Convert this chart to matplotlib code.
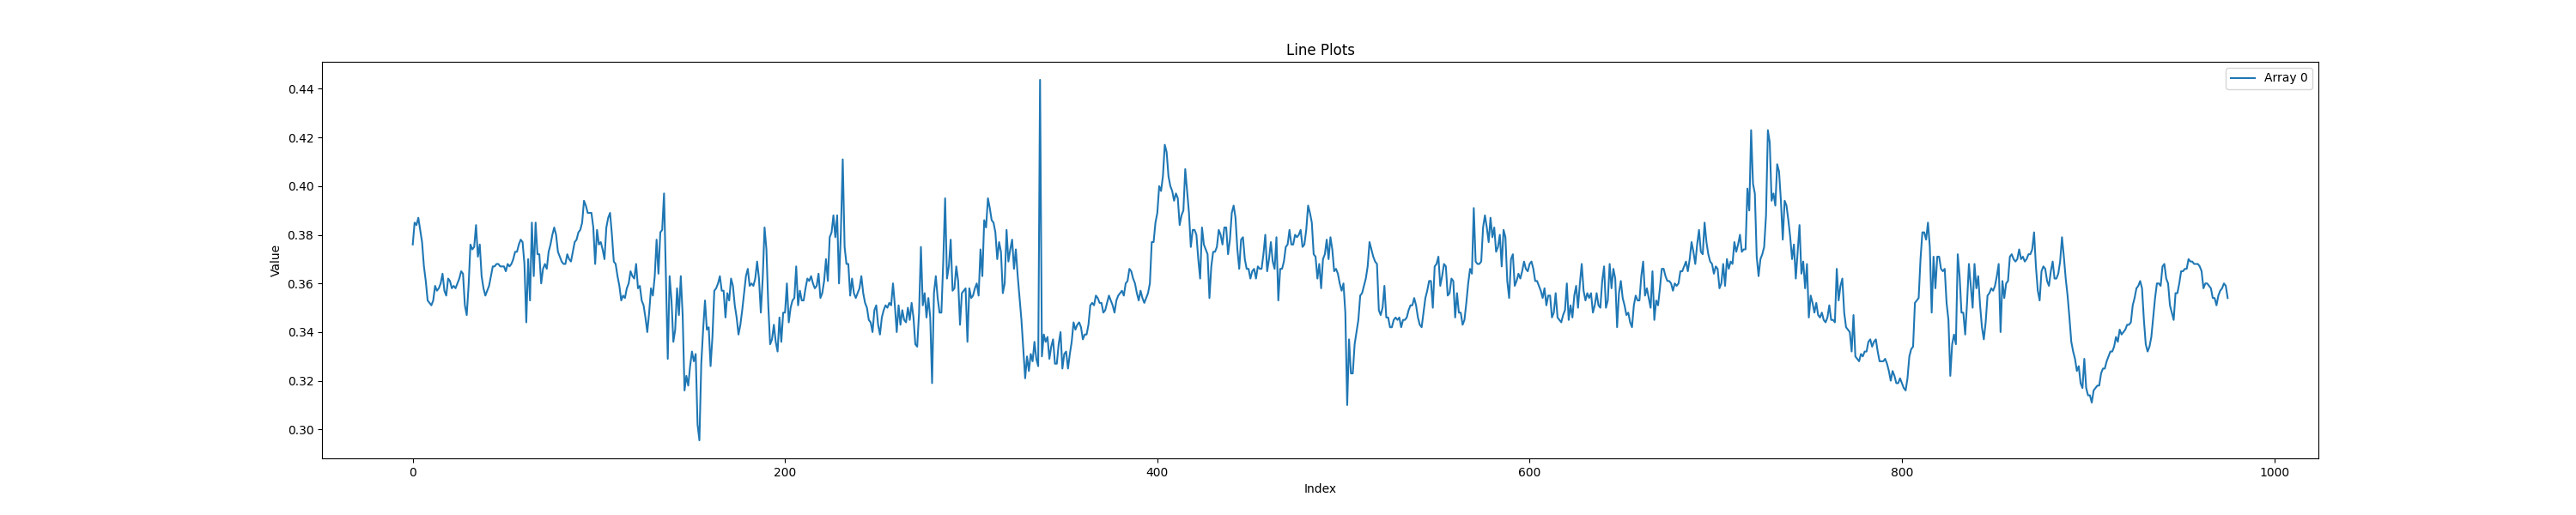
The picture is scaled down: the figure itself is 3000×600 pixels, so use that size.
import numpy as np
import matplotlib
matplotlib.use("Agg")
import matplotlib.pyplot as plt

# Values, split into consecutive index ranges
part_0_100 = [0.376, 0.385, 0.384, 0.387, 0.382, 0.377, 0.367, 0.361, 0.353, 0.352,
              0.351, 0.353, 0.359, 0.357, 0.358, 0.360, 0.364, 0.357, 0.355,
              0.362, 0.361, 0.358, 0.359, 0.358, 0.360, 0.362, 0.365, 0.364, 0.351,
              0.347, 0.359, 0.376, 0.374, 0.375, 0.384, 0.371, 0.376, 0.363, 0.358,
              0.355, 0.357, 0.359, 0.363, 0.367, 0.367, 0.368, 0.368, 0.367, 0.367,
              0.367, 0.365, 0.368, 0.367, 0.368, 0.370, 0.373, 0.373, 0.376, 0.378,
              0.377, 0.368, 0.344, 0.370, 0.353, 0.385, 0.363, 0.385, 0.372,
              0.372, 0.360, 0.366, 0.368, 0.366, 0.373, 0.376, 0.380, 0.383, 0.380,
              0.373, 0.371, 0.369, 0.368, 0.368, 0.372, 0.370, 0.369, 0.373, 0.377,
              0.378, 0.381, 0.382, 0.385, 0.394, 0.392, 0.389, 0.389, 0.389, 0.383,
              0.368, 0.382, 0.376]

part_101_206 = [0.377, 0.374, 0.370, 0.383, 0.387, 0.389, 0.380, 0.369, 0.368, 0.363,
                0.359, 0.353, 0.355, 0.354, 0.358, 0.360, 0.365, 0.363, 0.362, 0.368,
                0.358, 0.359, 0.353, 0.351, 0.346, 0.340, 0.348, 0.358, 0.355, 0.363,
                0.378, 0.364, 0.381, 0.382, 0.397, 0.363, 0.329, 0.363, 0.353, 0.336,
                0.341, 0.358, 0.347, 0.363, 0.347, 0.316, 0.322, 0.318, 0.326, 0.332,
                0.328, 0.331, 0.302, 0.2955, 0.327, 0.341, 0.353, 0.341, 0.342, 0.326,
                0.338, 0.357, 0.358, 0.360, 0.363, 0.357, 0.357, 0.346, 0.356, 0.353,
                0.362, 0.359, 0.351, 0.346, 0.339, 0.343, 0.349, 0.356, 0.363, 0.366,
                0.359, 0.360, 0.359, 0.362, 0.369, 0.362, 0.348, 0.362, 0.383, 0.374,
                0.351, 0.335, 0.337, 0.343, 0.336, 0.332, 0.346, 0.336, 0.348, 0.348,
                0.360, 0.344, 0.350, 0.353, 0.354, 0.367]

part_207_318 = [0.351, 0.357, 0.353, 0.353, 0.358, 0.362, 0.361, 0.363, 0.360, 0.358,
                0.359, 0.364, 0.354, 0.356, 0.361, 0.370, 0.361, 0.379, 0.381, 0.388,
                0.379, 0.388, 0.360, 0.381, 0.411, 0.375, 0.368, 0.368, 0.355, 0.362,
                0.356, 0.354, 0.356, 0.358, 0.363, 0.356, 0.352, 0.350, 0.345, 0.344,
                0.340, 0.349, 0.351, 0.343, 0.339, 0.346, 0.349, 0.351, 0.350, 0.352,
                0.351, 0.360, 0.351, 0.340, 0.351, 0.343, 0.349, 0.345, 0.344, 0.350,
                0.345, 0.352, 0.346, 0.335, 0.334, 0.348, 0.375, 0.351, 0.356, 0.346,
                0.354, 0.346, 0.319, 0.356, 0.363, 0.354, 0.348, 0.348, 0.369, 0.395,
                0.362, 0.367, 0.378, 0.357, 0.358, 0.367, 0.361, 0.343, 0.356, 0.357,
                0.358, 0.336, 0.358, 0.354, 0.355, 0.358, 0.360, 0.355, 0.374, 0.363,
                0.386, 0.383, 0.395, 0.391, 0.386, 0.385, 0.381, 0.370, 0.377, 0.373,
                0.356, 0.360]

part_319_418 = [0.382, 0.369, 0.374, 0.378, 0.366, 0.374, 0.363, 0.354, 0.345, 0.333,
                0.321, 0.330, 0.324, 0.331, 0.328, 0.336, 0.329, 0.326, 0.4437, 0.330,
                0.339, 0.336, 0.338, 0.329, 0.334, 0.337, 0.327, 0.327, 0.335, 0.340,
                0.325, 0.331, 0.332, 0.325, 0.331, 0.336, 0.344, 0.341, 0.343, 0.344,
                0.342, 0.337, 0.339, 0.339, 0.343, 0.351, 0.352, 0.351, 0.355, 0.354,
                0.352, 0.352, 0.348, 0.349, 0.352, 0.355, 0.353, 0.351, 0.348,
                0.353, 0.355, 0.356, 0.357, 0.355, 0.360, 0.361, 0.366, 0.365, 0.362,
                0.360, 0.356, 0.353, 0.357, 0.354, 0.352, 0.354, 0.356, 0.360, 0.377,
                0.377, 0.385, 0.389, 0.400, 0.398, 0.404, 0.417, 0.414, 0.404, 0.400,
                0.398, 0.394, 0.397, 0.395, 0.384, 0.388, 0.390, 0.407, 0.398, 0.389, 0.375]

part_419_529 = [0.382, 0.382, 0.380, 0.370, 0.362, 0.383, 0.376, 0.374, 0.372, 0.354,
                0.367, 0.373, 0.373, 0.375, 0.382, 0.380, 0.376, 0.383, 0.383, 0.372,
                0.378, 0.389, 0.392, 0.387, 0.374, 0.366, 0.378, 0.379, 0.370, 0.366,
                0.366, 0.362, 0.365, 0.366, 0.362, 0.367, 0.366, 0.366, 0.372,
                0.380, 0.365, 0.370, 0.377, 0.369, 0.366, 0.379, 0.353, 0.366, 0.366,
                0.369, 0.375, 0.376, 0.382, 0.376, 0.376, 0.380, 0.379, 0.380, 0.382,
                0.375, 0.376, 0.382, 0.392, 0.389, 0.385, 0.372, 0.371, 0.362, 0.368,
                0.358, 0.370, 0.372, 0.378, 0.370, 0.379, 0.374, 0.365, 0.366, 0.364,
                0.360, 0.357, 0.360, 0.348, 0.310, 0.337, 0.323, 0.323, 0.335, 0.340,
                0.345, 0.355, 0.356, 0.359, 0.362, 0.367, 0.377, 0.374, 0.371, 0.369,
                0.368, 0.349, 0.347, 0.350, 0.359, 0.346, 0.346, 0.342, 0.342, 0.345,
                0.346, 0.345]

part_530_636 = [0.346, 0.342, 0.345, 0.345, 0.346, 0.349, 0.351, 0.351, 0.354, 0.351,
                0.346, 0.343, 0.342, 0.348, 0.354, 0.357, 0.361, 0.361, 0.350, 0.367,
                0.368, 0.371, 0.359, 0.363, 0.368, 0.367, 0.355, 0.356, 0.362, 0.361,
                0.346, 0.356, 0.348, 0.348, 0.343, 0.345, 0.352, 0.360, 0.366, 0.364,
                0.391, 0.369, 0.368, 0.368, 0.369, 0.383, 0.388, 0.383, 0.377, 0.387,
                0.379, 0.383, 0.373, 0.375, 0.380, 0.367, 0.382, 0.379, 0.361, 0.354,
                0.370, 0.372, 0.359, 0.361, 0.364, 0.362, 0.365, 0.369, 0.366, 0.365,
                0.368, 0.369, 0.366, 0.361, 0.361, 0.359, 0.357, 0.354, 0.358, 0.351,
                0.355, 0.355, 0.346, 0.348, 0.356, 0.346, 0.345, 0.344, 0.347, 0.349,
                0.360, 0.345, 0.351, 0.346, 0.355, 0.359, 0.350, 0.360, 0.368, 0.357,
                0.353, 0.356, 0.354, 0.356, 0.348, 0.351, 0.356]

part_637_742 = [0.351, 0.350, 0.361, 0.367, 0.350, 0.353, 0.368, 0.358, 0.366, 0.362,
                0.342, 0.356, 0.361, 0.354, 0.351, 0.347, 0.348, 0.344, 0.342, 0.351,
                0.355, 0.353, 0.353, 0.363, 0.369, 0.355, 0.358, 0.354, 0.350, 0.365,
                0.345, 0.353, 0.351, 0.358, 0.366, 0.366, 0.363, 0.361, 0.361, 0.360,
                0.357, 0.360, 0.359, 0.360, 0.365, 0.365, 0.367, 0.369, 0.365, 0.370,
                0.377, 0.373, 0.368, 0.376, 0.382, 0.373, 0.372, 0.385, 0.377, 0.372,
                0.369, 0.368, 0.364, 0.367, 0.366, 0.358, 0.360, 0.368, 0.359, 0.370,
                0.366, 0.369, 0.368, 0.377, 0.373, 0.376, 0.380, 0.373, 0.374, 0.374,
                0.399, 0.390, 0.423, 0.401, 0.397, 0.371, 0.363, 0.370, 0.372, 0.375,
                0.388, 0.423, 0.418, 0.394, 0.397, 0.392, 0.409, 0.406, 0.394, 0.378,
                0.394, 0.392, 0.386, 0.379, 0.370, 0.376]

part_743_848 = [0.362, 0.373, 0.384, 0.364, 0.369, 0.358, 0.368, 0.346, 0.355, 0.352,
                0.348, 0.352, 0.347, 0.346, 0.348, 0.345, 0.344, 0.346, 0.351, 0.345,
                0.345, 0.344, 0.366, 0.353, 0.359, 0.362, 0.348, 0.342, 0.341, 0.340,
                0.332, 0.347, 0.330, 0.329, 0.328, 0.331, 0.330, 0.332, 0.332, 0.336,
                0.337, 0.334, 0.336, 0.337, 0.332, 0.328, 0.328, 0.328, 0.329, 0.327,
                0.324, 0.320, 0.324, 0.322, 0.319, 0.319, 0.321, 0.319, 0.317, 0.316,
                0.321, 0.330, 0.333, 0.334, 0.352, 0.353, 0.354, 0.370, 0.381, 0.381,
                0.378, 0.385, 0.375, 0.348, 0.371, 0.358, 0.371, 0.371, 0.366, 0.365,
                0.366, 0.352, 0.345, 0.322, 0.335, 0.339, 0.335, 0.372, 0.363, 0.348,
                0.348, 0.339, 0.352, 0.368, 0.359, 0.350, 0.368, 0.358, 0.363, 0.351,
                0.342, 0.337, 0.344, 0.355, 0.356, 0.358]

part_849_975 = [0.357, 0.359, 0.363, 0.368, 0.340, 0.361, 0.354, 0.360, 0.361, 0.371,
                0.372, 0.370, 0.369, 0.370, 0.374, 0.370, 0.371, 0.369, 0.370, 0.372,
                0.372, 0.374, 0.381, 0.367, 0.357, 0.353, 0.365, 0.367, 0.366, 0.361,
                0.359, 0.365, 0.369, 0.362, 0.362, 0.364, 0.369, 0.379, 0.371, 0.362,
                0.355, 0.346, 0.336, 0.332, 0.329, 0.324, 0.326, 0.319, 0.317, 0.329,
                0.317, 0.314, 0.314, 0.311, 0.316, 0.317, 0.318, 0.318, 0.323, 0.325,
                0.325, 0.328, 0.330, 0.332, 0.332, 0.334, 0.338, 0.336, 0.341, 0.339,
                0.340, 0.341, 0.343, 0.343, 0.344, 0.351, 0.354, 0.358, 0.359, 0.361,
                0.358, 0.345, 0.335, 0.332, 0.334, 0.338, 0.346, 0.354, 0.360, 0.360,
                0.359, 0.367, 0.368, 0.362, 0.360, 0.351, 0.348, 0.345, 0.356, 0.356,
                0.360, 0.365, 0.365, 0.366, 0.366, 0.370, 0.369, 0.369, 0.368, 0.368,
                0.368, 0.367, 0.365, 0.358, 0.360, 0.360, 0.359, 0.358, 0.354, 0.354,
                0.351, 0.355, 0.357, 0.358, 0.360, 0.359, 0.354]

series_label = "Array 0"
title_text = "Line Plots"
x_label = "Index"
y_label = "Value"

values = np.array(part_0_100 + part_101_206 + part_207_318 + part_319_418 +
                  part_419_529 + part_530_636 + part_637_742 + part_743_848 +
                  part_849_975)
index = np.arange(len(values))

fig, ax = plt.subplots(figsize=(30, 6), dpi=100)
ax.plot(index, values, color="#1f77b4", linewidth=1.5, label=series_label)
ax.set_title(title_text)
ax.set_xlabel(x_label)
ax.set_ylabel(y_label)
ax.legend(loc="upper right")
fig.savefig("out.png", dpi=100)
